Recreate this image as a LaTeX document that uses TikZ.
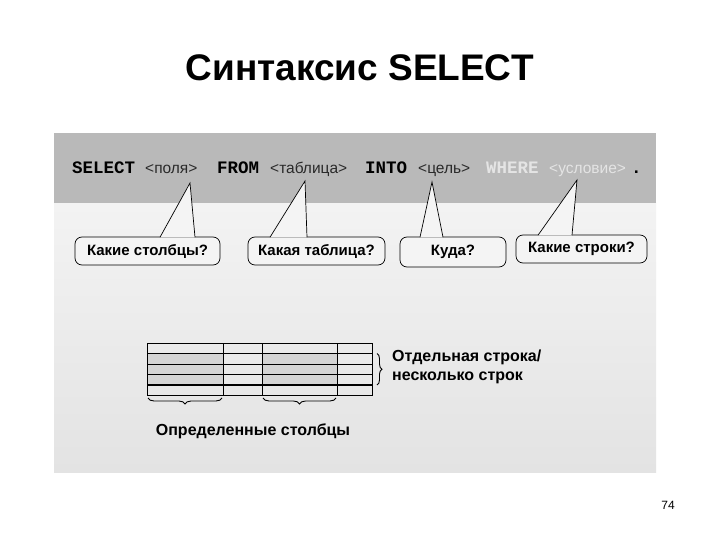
\documentclass[tikz,border=0pt]{standalone}
\usepackage{fontspec}
\setmainfont{Liberation Sans}
\newfontfamily\codefont{Liberation Mono}
\usetikzlibrary{decorations.pathreplacing,calc}
\definecolor{band}{HTML}{B9B9B9}
\definecolor{paneltop}{HTML}{F3F3F3}
\definecolor{panelbot}{HTML}{E3E3E3}
\definecolor{faded}{HTML}{E4E4E4}
\definecolor{hint}{HTML}{2A2A2A}
\definecolor{cellshade}{HTML}{D4D4D4}
\definecolor{bubblefill}{HTML}{F4F4F4}
\tikzset{
  codeword/.style={font=\codefont\bfseries\fontsize{17.5}{20}\selectfont, anchor=base west, inner sep=0pt},
  hintword/.style={font=\fontsize{15.5}{18}\selectfont, text=hint, anchor=base west, inner sep=0pt},
  bubble/.style={draw=black, line width=0.7pt, fill=bubblefill, rounded corners=7pt, inner sep=0pt,
    font=\bfseries\fontsize{15}{18}\selectfont},
  pointer/.style={draw=black, line width=0.7pt, line join=miter},
  gridline/.style={line width=0.7pt},
  selline/.style={line width=1.5pt},
  bracestyle/.style={decorate, decoration={brace, amplitude=6pt}, line width=0.9pt},
  label/.style={font=\bfseries\fontsize{16}{19}\selectfont, inner sep=0pt}
}
\begin{document}
\begin{tikzpicture}[x=1pt,y=-1pt]
\useasboundingbox (0,0) rectangle (720,540);
\fill[white] (0,0) rectangle (720,540);
% panel
\shade[top color=paneltop, bottom color=panelbot] (54,203) rectangle (656,472);
\fill[band] (54,133) rectangle (656,203);

% title
\node (title) at (360,68) {\bfseries\fontsize{37}{44}\selectfont Синтаксис SELECT};

% code line
\node[codeword] (kselect) at (72,174) {SELECT};
\node[hintword] (h1) at (145,174) {<поля>};
\node[codeword] (kfrom) at (217,174) {FROM};
\node[hintword] (h2) at (270,174) {<таблица>};
\node[codeword] (kinto) at (365,174) {INTO};
\node[hintword] (h3) at (418,174) {<цель>};
\node[codeword, text=faded] (kwhere) at (486,174) {WHERE};
\node[hintword, text=faded] (h4) at (549,174) {<условие>};
\node[codeword] (kdot) at (631,174) {.};

% callouts
\node[bubble, minimum width=145pt, minimum height=28pt] (b1) at (147.5,251) {Какие столбцы?};
\node[bubble, minimum width=137pt, minimum height=28pt] (b2) at (316.5,251) {Какая таблица?};
\node[bubble, minimum width=106pt, minimum height=30pt] (b3) at (453,252) {Куда?};
\node[bubble, minimum width=131pt, minimum height=28pt] (b4) at (581.5,249) {Какие строки?};

\coordinate (t1) at (190,183);
\coordinate (t2) at (305,181);
\coordinate (t3) at (432,182);
\coordinate (t4) at (577,180);
\coordinate (f1l) at ($(b1.north)+(12.5,0.6)$);
\coordinate (f1r) at ($(b1.north)+(47.5,0.6)$);
\coordinate (f2l) at ($(b2.north)+(-46.5,0.6)$);
\coordinate (f2r) at ($(b2.north)+(-9.5,0.6)$);
\coordinate (f3l) at ($(b3.north)+(-33,0.6)$);
\coordinate (f3r) at ($(b3.north)+(-10,0.6)$);
\coordinate (f4l) at ($(b4.north)+(-43.5,0.6)$);
\coordinate (f4r) at ($(b4.north)+(-9.5,0.6)$);
\foreach \i in {1,2,3,4}{
  \fill[bubblefill] (f\i l) -- (t\i) -- (f\i r) -- cycle;
  \draw[pointer] (f\i l) -- (t\i) -- (f\i r);
}

% table
\fill[cellshade] (147.5,353.5) rectangle (223.5,385);
\fill[cellshade] (262.5,353.5) rectangle (337.5,385);
\foreach \yy in {364,374.5}{
  \draw[line width=1pt] (147.5,\yy) -- (372.5,\yy);
}
\draw[selline] (147.5,353.5) -- (372.5,353.5);
\draw[selline] (147.5,385) -- (372.5,385);
\foreach \xx in {223.5,262.5,337.5}{
  \draw[gridline] (\xx,343) -- (\xx,395.5);
}
\draw[gridline] (147.5,343) rectangle (372.5,395.5);

% braces
\coordinate (c1a) at (148,398);
\coordinate (c1b) at (222,398);
\coordinate (c3a) at (263,398);
\coordinate (c3b) at (336,398);
\coordinate (ra) at (377,353.5);
\coordinate (rb) at (377,385);
\draw[bracestyle, decoration={mirror}] (c1a) -- (c1b);
\draw[bracestyle, decoration={mirror}] (c3a) -- (c3b);
\draw[bracestyle, decoration={amplitude=5pt}] (ra) -- (rb);

% labels
\node[label, anchor=west, align=left] (rowlab) at (392,367) {Отдельная строка/\\несколько строк};
\node[label] (collab) at (253,431) {Определенные столбцы};

% page number
\node[font=\fontsize{12}{14}\selectfont] (pnum) at (668,505) {74};
\end{tikzpicture}
\end{document}
